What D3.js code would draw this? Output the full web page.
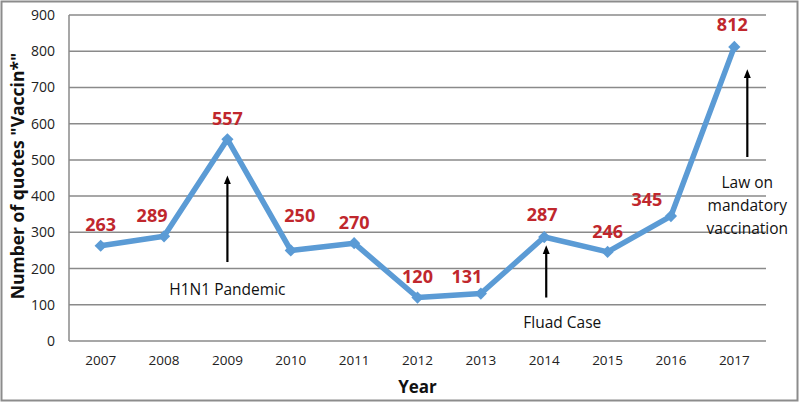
<!DOCTYPE html>
<html>
<head>
<meta charset="utf-8">
<script src="https://cdn.jsdelivr.net/npm/d3@7"></script>
<style>
  body { margin: 0; background: #fff; }
  svg { display: block; font-family: "Open Sans", sans-serif; }
</style>
</head>
<body>
<div class="canvas"></div>
<script>
// chart data
const years = ['2007', '2008', '2009', '2010', '2011', '2012', '2013', '2014', '2015', '2016', '2017'];
const quotes = [263, 289, 557, 250, 270, 120, 131, 287, 246, 345, 812];
const yTicks = [0, 100, 200, 300, 400, 500, 600, 700, 800, 900];

// nudges for the value labels (Excel moved a few of them by hand)
const labelDx = [0, -12, 0, 9, 0, 0, -14, -2, 0, -24, -2];
const labelDy = [-21, -21, -21, -35, -21, -21, -17, -22, -20, -16, -22];

// annotations: year, arrow bottom/top in data units, text lines
const notes = [
    { year: '2009', dx: 0, from: 218, to: 445, text: ['H1N1 Pandemic'], tx: 0, ty: 142 },
    { year: '2014', dx: 2, from: 120, to: 252, text: ['Fluad Case'], tx: 18, ty: 50 },
    { year: '2017', dx: 13, from: 508, to: 738, text: ['Law on', 'mandatory', 'vaccination'], tx: 13, ty: 437 }
];

const W = 800, H = 403;
const plot = { left: 69, right: 766, top: 15, bottom: 341 };

const svg = d3.select('.canvas')
    .append('svg')
    .attr('width', W)
    .attr('height', H);

// outer frame
svg.append('rect')
    .attr('x', 1.5).attr('y', 1.5)
    .attr('width', W - 4).attr('height', H - 4)
    .attr('fill', 'none')
    .attr('stroke', '#8c8c8c')
    .attr('stroke-width', 2);

const x = d3.scaleBand()
    .domain(years)
    .range([plot.left, plot.right]);

const y = d3.scaleLinear()
    .domain([0, 900])
    .range([plot.bottom, plot.top]);

const cx = d => x(d) + x.bandwidth() / 2;

// gridlines
svg.append('g')
    .selectAll('line')
    .data(yTicks)
    .enter().append('line')
    .attr('x1', plot.left).attr('x2', plot.right)
    .attr('y1', d => y(d)).attr('y2', d => y(d))
    .attr('stroke', '#8a8a8a')
    .attr('stroke-width', 1.5);

// left axis line
svg.append('line')
    .attr('x1', plot.left).attr('x2', plot.left)
    .attr('y1', y(0)).attr('y2', y(900))
    .attr('stroke', '#8a8a8a')
    .attr('stroke-width', 1.5);

// y axis
const yAxis = svg.append('g')
    .attr('transform', `translate(${plot.left}, 0)`)
    .call(d3.axisLeft(y).tickValues(yTicks).tickSize(0).tickPadding(14));
yAxis.select('.domain').remove();
yAxis.selectAll('text')
    .attr('font-family', '"Open Sans", sans-serif')
    .attr('font-size', 14)
    .attr('fill', '#222');

// x axis
const xAxis = svg.append('g')
    .attr('transform', `translate(0, ${plot.bottom})`)
    .call(d3.axisBottom(x).tickSize(0).tickPadding(14));
xAxis.select('.domain').remove();
xAxis.selectAll('text')
    .attr('font-family', '"Open Sans", sans-serif')
    .attr('font-size', 13.5)
    .attr('fill', '#222');

// axis titles
svg.append('text')
    .attr('x', (plot.left + plot.right) / 2 + 0)
    .attr('y', 393)
    .attr('text-anchor', 'middle')
    .attr('font-size', 17)
    .attr('font-weight', 'bold')
    .attr('fill', '#111')
    .text('Year');

svg.append('text')
    .attr('transform', 'translate(24, 176) rotate(-90)')
    .attr('text-anchor', 'middle')
    .attr('font-size', 17.5)
    .attr('font-weight', 'bold')
    .attr('fill', '#111')
    .text('Number of quotes "Vaccin*"');

// the series line
const line = d3.line()
    .x((d, i) => cx(years[i]))
    .y(d => y(d));

svg.append('path')
    .datum(quotes)
    .attr('d', line)
    .attr('fill', 'none')
    .attr('stroke', '#5b9bd5')
    .attr('stroke-width', 5.5)
    .attr('stroke-linejoin', 'round');

// diamond markers
svg.append('g')
    .selectAll('path')
    .data(quotes)
    .enter().append('path')
    .attr('d', d3.symbol().type(d3.symbolDiamond2).size(95))
    .attr('transform', (d, i) => `translate(${cx(years[i])}, ${y(d)})`)
    .attr('fill', '#5b9bd5');

// value labels
svg.append('g')
    .selectAll('text')
    .data(quotes)
    .enter().append('text')
    .attr('x', (d, i) => cx(years[i]) + labelDx[i])
    .attr('y', (d, i) => y(d) + labelDy[i])
    .attr('dy', '0.35em')
    .attr('text-anchor', 'middle')
    .attr('font-size', 18)
    .attr('font-weight', 'bold')
    .attr('fill', '#c0272d')
    .text(d => d);

// arrow head
svg.append('defs').append('marker')
    .attr('id', 'head')
    .attr('viewBox', '0 0 10 10')
    .attr('refX', 5).attr('refY', 5)
    .attr('markerWidth', 4).attr('markerHeight', 4)
    .attr('orient', 'auto')
    .append('path')
    .attr('d', 'M0,1 L10,5 L0,9 z')
    .attr('fill', '#000');

const noteG = svg.append('g');
notes.forEach(n => {
    const ax = cx(n.year) + n.dx;
    noteG.append('line')
        .attr('x1', ax).attr('x2', ax)
        .attr('y1', y(n.from)).attr('y2', y(n.to))
        .attr('stroke', '#000')
        .attr('stroke-width', 2.2)
        .attr('marker-end', 'url(#head)');
    n.text.forEach((t, k) => {
        noteG.append('text')
            .attr('x', cx(n.year) + n.tx)
            .attr('y', y(n.ty) + k * 23)
            .attr('dy', '0.35em')
            .attr('text-anchor', 'middle')
            .attr('font-size', 15.5)
            .attr('fill', '#111')
            .text(t);
    });
});
</script>
</body>
</html>
